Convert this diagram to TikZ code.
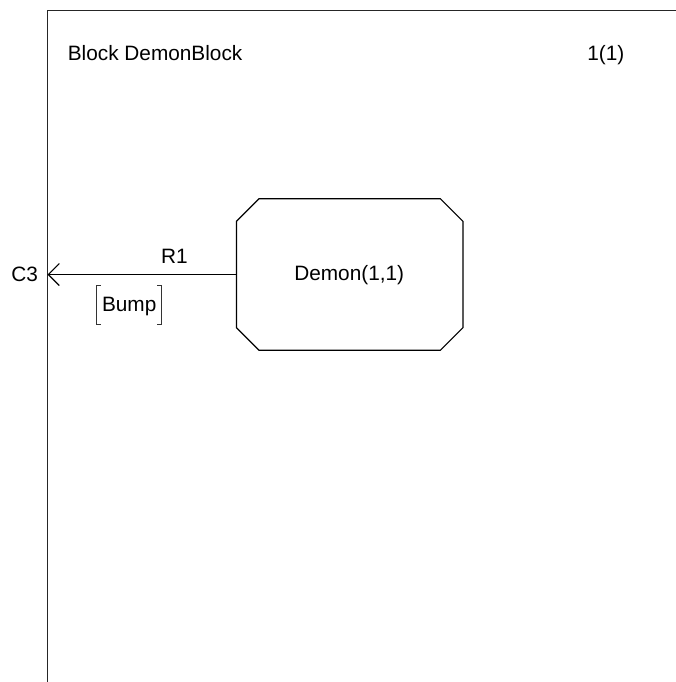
\documentclass[tikz,border=0pt]{standalone}
\usepackage{fontspec}
\setmainfont{Liberation Sans}
\usetikzlibrary{arrows.meta}
\begin{document}
\begin{tikzpicture}[x=1pt,y=-1pt,
  txt/.style={inner sep=0pt, anchor=base, font=\fontsize{20.8}{24}\selectfont},
  frameline/.style={line width=1.3pt, draw=black!85},
  shapeline/.style={line width=1.2pt, draw=black},
  conn/.style={line width=1.1pt, draw=black, -{Straight Barb[length=11pt,width=22pt,line width=1.1pt]}},
  brk/.style={line width=1pt, draw=black!80}]
\useasboundingbox (0,0) rectangle (676,682);
% frame
\draw[frameline] (47.5,682) -- (47.5,10.5) -- (676,10.5);
\node[txt, anchor=base west] (title) at (67.6,61) {Block DemonBlock};
\node[txt] (page) at (605.8,61) {1(1)};
% process symbol (octagon)
\node[inner sep=0pt, minimum width=226pt, minimum height=151pt] (demon) at (349.7,274.5) {};
\draw[shapeline]
  ([xshift=22.5pt]demon.north west) -- ([xshift=-22.5pt]demon.north east)
  -- ([yshift=-22.5pt]demon.north east) -- ([yshift=22.5pt]demon.south east)
  -- ([xshift=-22.5pt]demon.south east) -- ([xshift=22.5pt]demon.south west)
  -- ([yshift=22.5pt]demon.south west) -- ([yshift=-22.5pt]demon.north west) -- cycle;
\node[txt] (demonlbl) at (349.2,280) {Demon(1,1)};
% gate and connector
\coordinate (c3pt) at (47.5,274.5);
\node[txt] (c3) at (24.7,281) {C3};
\draw[conn] (demon.west) -- (c3pt);
\node[txt] (r1) at (174.5,263.3) {R1};
\node[txt] (bump) at (129.2,311.7) {Bump};
\draw[brk] (100.7,285) -- (96.7,285) -- (96.7,324) -- (100.7,324);
\draw[brk] (157.2,285) -- (161.2,285) -- (161.2,324) -- (157.2,324);
\end{tikzpicture}
\end{document}
